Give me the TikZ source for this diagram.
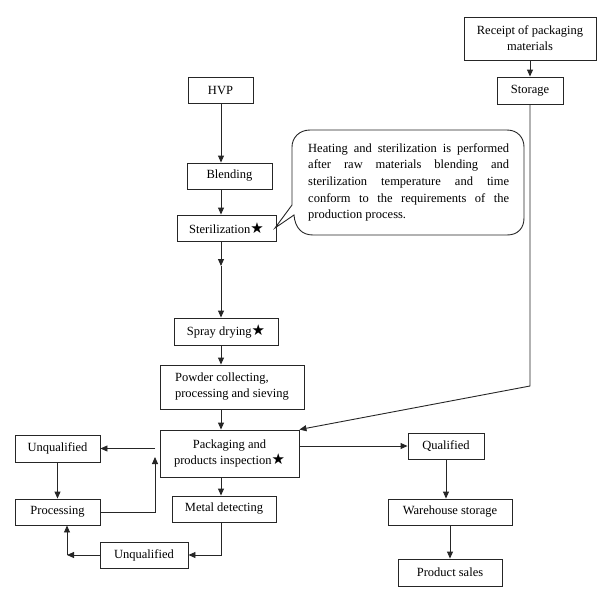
\documentclass[tikz,border=0pt]{standalone}
\usepackage{fontspec}
\setmainfont{Liberation Serif}
\newfontfamily\symfont{DejaVu Sans}
\usetikzlibrary{arrows.meta}
\newcommand{\bstar}{{\symfont\fontsize{15}{14}\selectfont ★}}
\newcommand{\jline}[1]{\makebox[201pt][s]{#1}}
\tikzset{
  box/.style={draw=black!85, line width=0.9pt, inner sep=0pt, align=center,
    font=\fontsize{12.5}{16}\selectfont},
  conn/.style={draw=black!85, line width=0.9pt},
  arr/.style={conn, -{Triangle[length=7pt,width=6pt]}},
}
\begin{document}
\begin{tikzpicture}[x=1pt,y=-1pt]
\useasboundingbox (0,0) rectangle (600,600);
\coordinate (ax) at (221,0);
% right column
\node[box, minimum width=132, minimum height=43] (receipt) at (530,38.5) {Receipt of packaging\\materials};
\node[box, minimum width=66, minimum height=27] (storage) at (530,90.5) {Storage};
% main column
\node[box, minimum width=65, minimum height=26] (hvp) at (220.5,90) {HVP};
\node[box, minimum width=85, minimum height=26] (blend) at (229.5,176) {Blending};
\node[box, minimum width=99, minimum height=26] (ster) at (226.5,228) {Sterilization\bstar};
\node[box, minimum width=104, minimum height=27] (spray) at (226,331.5) {Spray drying\bstar};
\node[box, minimum width=144, minimum height=44, align=left] (powder) at (232,387) {Powder collecting,\\processing and sieving};
\node[box, minimum width=139, minimum height=47] (pack) at (229.5,453.5) {Packaging and\\products inspection\bstar};
\node[box, minimum width=104, minimum height=26] (metal) at (224,509) {Metal detecting};
% left column
\node[box, minimum width=85, minimum height=27] (unq1) at (57.5,448.5) {Unqualified};
\node[box, minimum width=85, minimum height=26] (proc) at (57.5,512) {Processing};
\node[box, minimum width=88, minimum height=26] (unq2) at (144,555) {Unqualified};
% right lower column
\node[box, minimum width=76, minimum height=26] (qual) at (446,446) {Qualified};
\node[box, minimum width=124, minimum height=26] (ware) at (450,512) {Warehouse storage};
\node[box, minimum width=104, minimum height=27] (sales) at (450,572.5) {Product sales};
% callout
\draw[conn] (275,228) -- (292,205) -- (292,147)
  .. controls (292,138) and (299,130) .. (310,130) -- (507,130)
  .. controls (518,130) and (524,138) .. (524,147) -- (524,218)
  .. controls (524,228) and (518,235) .. (507,235) -- (313,235)
  .. controls (302,235) and (295,228) .. (294,215) -- cycle;
\node[anchor=north west, inner sep=0pt, align=left,
  font=\fontsize{12.5}{16.7}\selectfont] (note) at (308,143)
  {\jline{Heating and sterilization is performed}\\
   \jline{after raw materials blending and}\\
   \jline{sterilization temperature and time}\\
   \jline{conform to the requirements of the}\\
   production process.};
% connectors
\coordinate (m1) at (221,266);
\coordinate (c1) at (155,457);
\coordinate (c2) at (67,555);
\draw[arr] (receipt.south) -- (storage.north);
\draw[arr] (storage.south) -- (530,386) -- (pack.north east);
\draw[arr] (ax |- hvp.south) -- (ax |- blend.north);
\draw[arr] (ax |- blend.south) -- (ax |- ster.north);
\draw[arr] (ax |- ster.south) -- (m1);
\draw[arr] (m1) -- (ax |- spray.north);
\draw[arr] (ax |- spray.south) -- (ax |- powder.north);
\draw[arr] (ax |- powder.south) -- (ax |- pack.north);
\draw[arr] (ax |- pack.south) -- (ax |- metal.north);
\draw[arr] (unq1.east -| 155,0) -- (unq1.east);
\draw[arr] (pack.east |- qual.west) -- (qual.west);
\draw[arr] (unq1.south) -- (proc.north);
\draw[arr] (proc.east) -| (c1);
\draw[arr] (ax |- metal.south) |- (unq2.east);
\draw[arr] (unq2.west) -- (c2);
\draw[arr] (c2) -- (c2 |- proc.south);
\draw[arr] (qual.south) -- (qual.south |- ware.north);
\draw[arr] (ware.south) -- (sales.north);
\end{tikzpicture}
\end{document}
